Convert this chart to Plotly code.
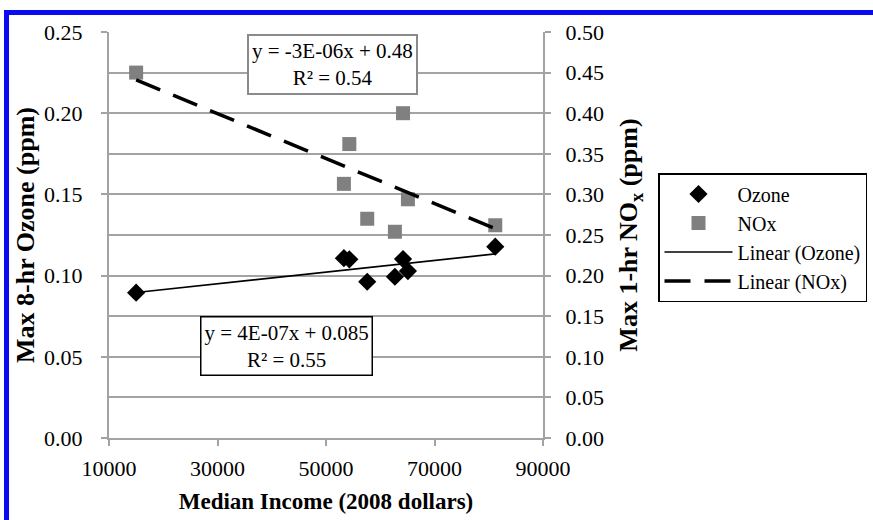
import numpy as np
import plotly.graph_objects as go

# ---- data ----
income = [15000, 53300, 54300, 57600, 62700, 64200, 65100, 81200]
ozone = [0.0895, 0.1107, 0.1100, 0.0962, 0.0993, 0.1102, 0.1028, 0.1178]
nox = [0.450, 0.313, 0.362, 0.270, 0.254, 0.400, 0.294, 0.262]
x_ticks = [10000, 30000, 50000, 70000, 90000]
ozone_eq = "y = 4E-07x + 0.085<br>R² = 0.55"
nox_eq = "y = -3E-06x + 0.48<br>R² = 0.54"

# linear trend lines fitted from the data
xa = np.array(income, dtype=float)
oz_fit = np.polyfit(xa, np.array(ozone), 1)
nx_fit = np.polyfit(xa, np.array(nox), 1)
x_line = [min(income), max(income)]
oz_line = list(np.polyval(oz_fit, x_line))
nx_line = list(np.polyval(nx_fit, x_line))

W, H = 873, 520
L, R, T, B = 109, 543, 32, 438  # plot area in pixels


def px(x):
    return (x - L) / (R - L)


def py(y):
    return (B - y) / (B - T)


SERIF = "Liberation Serif"
GRID = "#a3a3a3"

fig = go.Figure()
fig.add_trace(go.Scatter(x=income, y=ozone, mode="markers", name="Ozone",
                         marker=dict(symbol="diamond", size=14, color="black",
                                     line=dict(width=0)), yaxis="y"))
fig.add_trace(go.Scatter(x=income, y=nox, mode="markers", name="NOx",
                         marker=dict(symbol="square", size=14, color="#808080",
                                     line=dict(width=0)), yaxis="y2"))
fig.add_trace(go.Scatter(x=x_line, y=oz_line, mode="lines", name="Linear (Ozone)",
                         line=dict(color="black", width=1.6), yaxis="y"))
fig.add_trace(go.Scatter(x=x_line, y=nx_line, mode="lines", name="Linear (NOx)",
                         line=dict(color="black", width=3.5, dash="26px,14px"), yaxis="y2"))

axis_common = dict(showline=True, linecolor=GRID, linewidth=2, ticks="outside",
                   tickcolor=GRID, tickwidth=2, ticklen=6, zeroline=False,
                   tickfont=dict(family=SERIF, size=22, color="black"), automargin=False)

fig.update_layout(
    template="none",
    width=W, height=H,
    margin=dict(l=L, r=W - R, t=T, b=H - B, pad=0, autoexpand=False),
    paper_bgcolor="white", plot_bgcolor="white",
    font=dict(family=SERIF, color="black"),
    xaxis=dict(range=[10000, 90000], tickvals=x_ticks, tickformat="d", showgrid=False,
               title=dict(text="<b>Median Income (2008 dollars)</b>",
                          font=dict(family=SERIF, size=23), standoff=12),
               ticklabelstandoff=4, **axis_common),
    yaxis=dict(range=[0, 0.25], dtick=0.05, tickformat=".2f", showgrid=False,
               title=dict(text="<b>Max 8-hr Ozone (ppm)</b>",
                          font=dict(family=SERIF, size=26), standoff=2),
               ticklabelstandoff=14, **axis_common),
    yaxis2=dict(range=[0, 0.5], dtick=0.05, tickformat=".2f", overlaying="y",
                side="right", showgrid=True, gridcolor=GRID, gridwidth=2,
                title=dict(text="<b>Max 1-hr NO<sub>x</sub> (ppm)</b>",
                           font=dict(family=SERIF, size=26), standoff=16),
                ticklabelstandoff=10, **axis_common),
    legend=dict(x=px(658), y=py(173), xanchor="left", yanchor="top",
                bordercolor="black", borderwidth=1.5, bgcolor="white",
                font=dict(family=SERIF, size=20), itemwidth=68,
                tracegroupgap=0),
    showlegend=True,
)

fig.add_annotation(xref="paper", yref="paper", x=px(332), y=py(64), text=nox_eq,
                   xanchor="center", yanchor="middle",
                   showarrow=False, font=dict(family=SERIF, size=21, color="black"),
                   bordercolor="#8a8a8a", borderwidth=2, borderpad=3, bgcolor="white",
                   align="center")
fig.add_annotation(xref="paper", yref="paper", x=px(286), y=py(346), text=ozone_eq,
                   xanchor="center", yanchor="middle",
                   showarrow=False, font=dict(family=SERIF, size=21, color="black"),
                   bordercolor="black", borderwidth=1.5, borderpad=3, bgcolor="white",
                   align="center")

# blue frame of the original figure
BLUE = "#0b0bf2"
fig.add_shape(type="rect", xref="paper", yref="paper", x0=px(4), x1=px(873),
              y0=py(15), y1=py(10), fillcolor=BLUE, line=dict(width=0), layer="above")
fig.add_shape(type="rect", xref="paper", yref="paper", x0=px(4), x1=px(9),
              y0=py(520), y1=py(10), fillcolor=BLUE, line=dict(width=0), layer="above")

fig.write_html("out.html")
